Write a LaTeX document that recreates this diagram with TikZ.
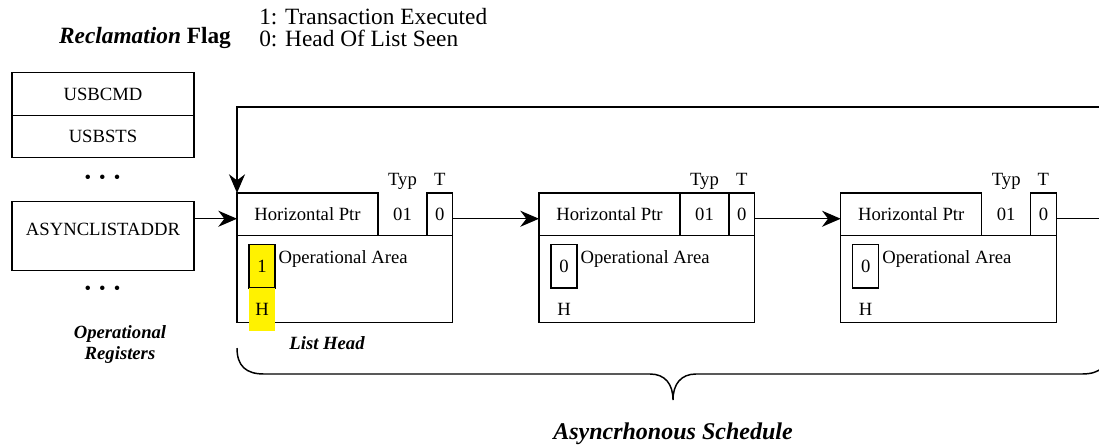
\documentclass[tikz,border=0pt]{standalone}
\usepackage{fontspec}
\setmainfont{Liberation Serif}
\usetikzlibrary{arrows.meta}
\begin{document}
\begin{tikzpicture}[x=0.75pt,y=-0.75pt,
  cell/.style={draw, line width=0.9pt, inner sep=0pt, outer sep=0pt, anchor=north west, font=\fontsize{14}{16}\selectfont},
  txt/.style={inner sep=0pt, font=\fontsize{14}{16}\selectfont},
  bi/.style={inner sep=0pt, font=\bfseries\itshape\fontsize{14}{15.75}\selectfont, align=center},
  leg/.style={inner sep=0pt, font=\fontsize{17.5}{17}\selectfont},
  arr/.style={line width=1.1pt, -{Stealth[length=14pt, width=12pt, inset=4.5pt]}},
  ln/.style={line width=1.1pt},
  hlt/.style={fill=yellow}]
\useasboundingbox (0,0) rectangle (1099,444);

% legend
\node[leg, anchor=base] (rf) at (145,43.3) {\textbf{\textit{Reclamation}} \textbf{Flag}};
\node[leg, anchor=base west] (leg1) at (259,24) {1: Transaction Executed};
\node[leg, anchor=base west] (leg2) at (259,46.7) {0: Head Of List Seen};

% operational registers
\node[cell, minimum width=136.5pt, minimum height=32.5pt] (reg1) at (12,72.3) {USBCMD};
\node[cell, minimum width=136.5pt, minimum height=31.5pt] (reg2) at (reg1.south west) {USBSTS};
\node[txt] (dots1) at (102.5,179) {•\hspace{6pt}•\hspace{6pt}•};
\node[cell, minimum width=136.5pt, minimum height=51.75pt] (reg3) at (12,201.7) {};
\node[txt] (reg3t) at (103,229) {ASYNCLISTADDR};
\node[txt] (dots2) at (102.5,290.7) {•\hspace{6pt}•\hspace{6pt}•};
\node[bi] (opreg) at (120,344.5) {Operational\\Registers};

% block 1 (list head)
\node[cell, minimum width=105.75pt, minimum height=32pt] (hp1) at (237,193) {Horizontal Ptr};
\node[cell, draw=none, minimum width=36.75pt, minimum height=32pt] (ty1) at (hp1.north east) {01};
\node[cell, minimum width=19.1pt, minimum height=32pt] (t1) at (ty1.north east) {0};
\node[cell, minimum width=161.6pt, minimum height=65pt] (op1) at (hp1.south west) {};
\node[cell, hlt, minimum width=19.5pt, minimum height=32.8pt] (f1) at (249,244.3) {1};
\node[cell, draw=none, hlt, minimum width=19.5pt, minimum height=32pt] (h1) at (249,288) {H};
\node[txt, anchor=base west] (oa1) at (278.3,263) {Operational Area};
\node[txt, anchor=base] (typ1) at ([yshift=6pt]ty1.north) {Typ};
\node[txt, anchor=base] (tl1) at ([yshift=6pt]t1.north) {T};
\node[bi] (lh) at (327,343) {List Head};

% block 2
\node[cell, minimum width=105.75pt, minimum height=32pt] (hp2) at (539,193) {Horizontal Ptr};
\node[cell, minimum width=36.75pt, minimum height=32pt] (ty2) at (hp2.north east) {01};
\node[cell, minimum width=19.1pt, minimum height=32pt] (t2) at (ty2.north east) {0};
\node[cell, minimum width=161.6pt, minimum height=65pt] (op2) at (hp2.south west) {};
\node[cell, minimum width=19.5pt, minimum height=32.8pt] (f2) at (551,244.3) {0};
\node[cell, draw=none, minimum width=19.5pt, minimum height=32pt] (h2) at (551,288) {H};
\node[txt, anchor=base west] (oa2) at (580.3,263) {Operational Area};
\node[txt, anchor=base] (typ2) at ([yshift=6pt]ty2.north) {Typ};
\node[txt, anchor=base] (tl2) at ([yshift=6pt]t2.north) {T};

% block 3
\node[cell, minimum width=105.75pt, minimum height=32pt] (hp3) at (840.7,193) {Horizontal Ptr};
\node[cell, draw=none, minimum width=36.75pt, minimum height=32pt] (ty3) at (hp3.north east) {01};
\node[cell, minimum width=19.1pt, minimum height=32pt] (t3) at (ty3.north east) {0};
\node[cell, minimum width=161.6pt, minimum height=65pt] (op3) at (hp3.south west) {};
\node[cell, minimum width=19.5pt, minimum height=32.8pt] (f3) at (852.7,244.3) {0};
\node[cell, draw=none, minimum width=19.5pt, minimum height=32pt] (h3) at (852.7,288) {H};
\node[txt, anchor=base west] (oa3) at (882,263) {Operational Area};
\node[txt, anchor=base] (typ3) at ([yshift=6pt]ty3.north) {Typ};
\node[txt, anchor=base] (tl3) at ([yshift=6pt]t3.north) {T};

% connectors
\coordinate (in1) at ([yshift=-3.3pt]hp1.west);
\draw[arr] (reg3.east |- in1) -- (in1);
\draw[arr] ([yshift=-3.3pt]t1.east) -- ([yshift=-3.3pt]hp2.west);
\draw[arr] ([yshift=-3.3pt]t2.east) -- ([yshift=-3.3pt]hp3.west);
\coordinate (loop) at (1130,107);
\draw[arr] ([yshift=-3.3pt]t3.east) -| (loop) -| (hp1.north west);

% brace
\draw[ln] (237,348) .. controls (237,366) and (246,374) .. (264,374) -- (650,374)
  .. controls (665,374) and (673,384) .. (673,400)
  .. controls (673,384) and (681,374) .. (696,374) -- (1082,374)
  .. controls (1100,374) and (1109,366) .. (1109,348);
\node[inner sep=0pt, font=\bfseries\itshape\fontsize{18}{20}\selectfont, anchor=base] (as) at (673,439) {Asyncrhonous Schedule};
\end{tikzpicture}
\end{document}
